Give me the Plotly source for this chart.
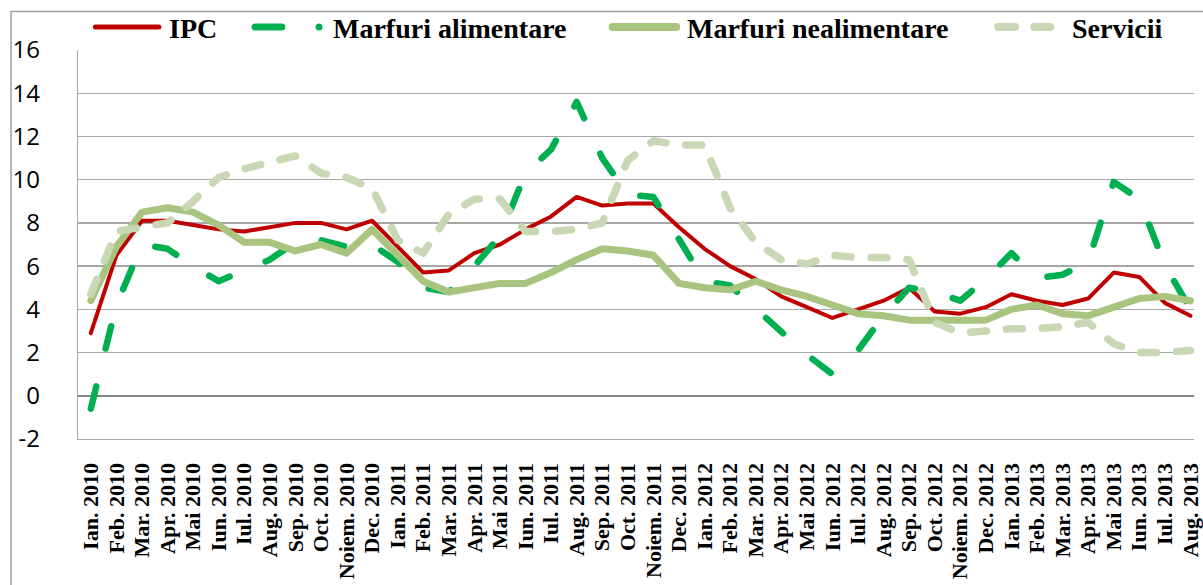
import plotly.graph_objects as go

# ---------------- data ----------------
months = ["Ian.", "Feb.", "Mar.", "Apr.", "Mai", "Iun.", "Iul.", "Aug.", "Sep.", "Oct.", "Noiem.", "Dec."]
years = [2010, 2011, 2012, 2013]
categories = [f"{m} {y}" for y in years for m in months][:44]

ipc = [2.9, 6.5, 8.1, 8.1, 7.9, 7.7, 7.6, 7.8, 8.0, 8.0, 7.7, 8.1,
       6.9, 5.7, 5.8, 6.6, 7.0, 7.7, 8.3, 9.2, 8.8, 8.9, 8.9, 7.8,
       6.8, 6.0, 5.4, 4.6, 4.1, 3.6, 4.0, 4.4, 5.0, 3.9, 3.8, 4.1,
       4.7, 4.4, 4.2, 4.5, 5.7, 5.5, 4.3, 3.7]

marfuri_alimentare = [-0.6, 4.2, 7.0, 6.8, 6.0, 5.3, 5.8, 6.3, 7.1, 7.2, 6.9, 7.0,
                      6.2, 5.0, 4.8, 6.0, 7.4, 10.3, 11.4, 13.6, 11.0, 9.3, 9.2, 7.2,
                      5.3, 5.1, 4.0, 2.9, 1.9, 1.0, 2.1, 3.7, 5.0, 4.8, 4.4, 5.4,
                      6.6, 5.45, 5.6, 6.2, 9.9, 9.1, 6.05, 4.0]

marfuri_nealimentare = [4.4, 6.9, 8.5, 8.7, 8.5, 7.9, 7.1, 7.1, 6.7, 7.0, 6.6, 7.7,
                        6.5, 5.3, 4.8, 5.0, 5.2, 5.2, 5.7, 6.3, 6.8, 6.7, 6.5, 5.2,
                        5.0, 4.9, 5.3, 4.9, 4.6, 4.2, 3.8, 3.7, 3.5, 3.5, 3.5, 3.5,
                        4.0, 4.2, 3.8, 3.7, 4.1, 4.5, 4.6, 4.4]

servicii = [4.7, 7.6, 7.8, 8.0, 9.0, 10.1, 10.5, 10.8, 11.1, 10.3, 10.1, 9.6,
            7.2, 6.6, 8.4, 9.1, 9.1, 7.6, 7.6, 7.7, 8.0, 10.9, 11.8, 11.6,
            11.6, 8.7, 7.1, 6.3, 6.1, 6.5, 6.4, 6.4, 6.3, 3.4, 2.9, 3.0,
            3.1, 3.1, 3.2, 3.4, 2.4, 2.0, 2.0, 2.1]

series_names = ["IPC", "Marfuri alimentare", "Marfuri nealimentare", "Servicii"]
y_ticks = list(range(-2, 17, 2))
y_tick_labels = ["-2", "0", "2", "4", "6", "8", "10", "12", "14", "16"]

# ---------------- styles ----------------
RED = "#C00000"
GREEN = "#00B050"
OLIVE = "#A9C47E"
PALE = "#C9D8B4"
GRID = "#A6A6A6"

W, H = 1203, 585
L, R, T, B = 78, 0, 50, 146
PW, PH = W - L - R, H - T - B


def px(x):
    return (x - L) / PW


def py(y):
    return (H - B - y) / PH


fig = go.Figure()
fig.add_trace(go.Scatter(x=categories, y=ipc, name=series_names[0], mode="lines",
                         line=dict(color=RED, width=4)))
fig.add_trace(go.Scatter(x=categories, y=marfuri_alimentare, name=series_names[1], mode="lines",
                         line=dict(color=GREEN, width=6.5, dash="23px,39px")))
fig.add_trace(go.Scatter(x=categories, y=marfuri_nealimentare, name=series_names[2], mode="lines",
                         line=dict(color=OLIVE, width=7)))
fig.add_trace(go.Scatter(x=categories, y=servicii, name=series_names[3], mode="lines",
                         line=dict(color=PALE, width=7.5, dash="16px,20px")))

shapes = []
# outer chart frame (cut off at right and bottom, as in the reference)
shapes.append(dict(type="rect", xref="paper", yref="paper",
                   x0=px(10.5), x1=px(1215), y0=py(620), y1=py(11.5),
                   line=dict(color="#A0A0A0", width=1.5), fillcolor="rgba(0,0,0,0)", layer="below"))

# custom legend samples
LY = py(27)
shapes.append(dict(type="line", xref="paper", yref="paper", x0=px(95.5), x1=px(159.5), y0=LY, y1=LY,
                   line=dict(color=RED, width=5)))
shapes.append(dict(type="line", xref="paper", yref="paper", x0=px(256.5), x1=px(283.5), y0=LY, y1=LY,
                   line=dict(color=GREEN, width=7)))
shapes.append(dict(type="circle", xref="paper", yref="paper", x0=px(317.5), x1=px(324.5),
                   y0=py(30.5), y1=py(23.5), line=dict(color=GREEN, width=0), fillcolor=GREEN))
shapes.append(dict(type="line", xref="paper", yref="paper", x0=px(617), x1=px(681), y0=LY, y1=LY,
                   line=dict(color=OLIVE, width=8)))
shapes.append(dict(type="line", xref="paper", yref="paper", x0=px(1005.5), x1=px(1022.5), y0=LY, y1=LY,
                   line=dict(color=PALE, width=8)))
shapes.append(dict(type="line", xref="paper", yref="paper", x0=px(1042), x1=px(1058), y0=LY, y1=LY,
                   line=dict(color=PALE, width=8)))

legend_x = [168, 333, 690, 1078]
annotations = []
for name, lx in zip(series_names, legend_x):
    annotations.append(dict(text=f"<b>{name}</b>", xref="paper", yref="paper",
                            x=px(lx), y=py(28.5), xanchor="left", yanchor="middle",
                            showarrow=False,
                            font=dict(family="Liberation Serif", size=28, color="black")))

fig.update_layout(
    width=W, height=H,
    margin=dict(l=L, r=R, t=T, b=B, pad=0),
    paper_bgcolor="white", plot_bgcolor="white",
    showlegend=False,
    shapes=shapes,
    annotations=annotations,
)

fig.update_xaxes(
    type="category",
    range=[-0.5, 43 + (W - 1199.4) / 25.78],
    tickmode="array", tickvals=categories, ticktext=[f"<b>{c}</b>" for c in categories],
    tickangle=-90,
    tickfont=dict(family="Liberation Serif", size=22, color="black"),
    showgrid=False,
    showline=True, linecolor=GRID, linewidth=1.3, mirror=False,
    ticks="", ticklabelstandoff=14,
    zeroline=False,
)
fig.update_yaxes(
    range=[-2, 16],
    tickmode="array", tickvals=y_ticks, ticktext=y_tick_labels,
    tickfont=dict(family="Open Sans", size=24, color="black"),
    showgrid=True, gridcolor=GRID, gridwidth=1.3,
    zeroline=True, zerolinecolor="#868686", zerolinewidth=2.2,
    showline=True, linecolor=GRID, linewidth=1.3,
    ticks="", ticklabelstandoff=32,
)

post = """
document.body.style.margin = '0';
document.body.style.overflow = 'hidden';
var gd = document.getElementById('{plot_id}');
gd.querySelectorAll('.scatterlayer path.js-line').forEach(function(p){
  p.style.strokeLinecap = 'round'; p.style.strokeLinejoin = 'round';
});
gd.querySelectorAll('.shapelayer path').forEach(function(p){
  p.style.strokeLinecap = 'round';
});
"""

fig.write_html("out.html", post_script=post, config={"displayModeBar": False, "staticPlot": True})
